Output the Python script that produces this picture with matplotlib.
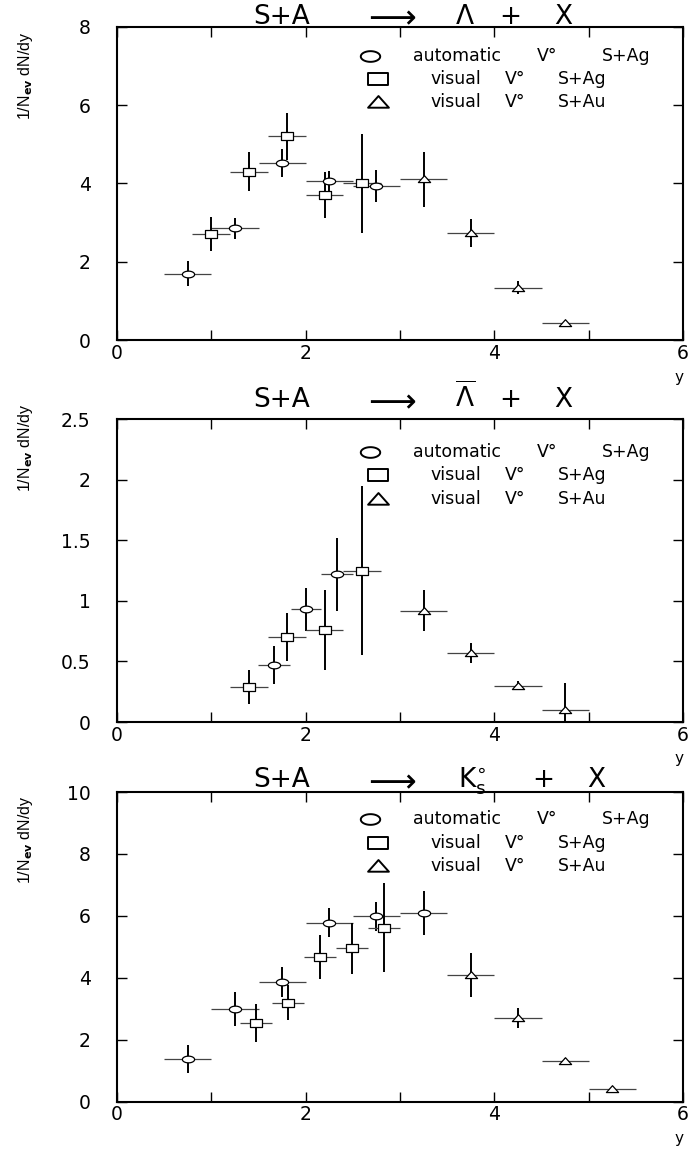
import numpy as np
import matplotlib.pyplot as plt
from matplotlib.path import Path

# ---- data ----
# S+A -> Lambda + X
lam_auto_x = [0.75, 1.25, 1.75, 2.25, 2.75]
lam_auto_xe = [0.25, 0.25, 0.25, 0.25, 0.25]
lam_auto_y = [1.70, 2.86, 4.52, 4.06, 3.93]
lam_auto_ye = [0.32, 0.27, 0.35, 0.27, 0.41]
lam_ag_x = [1.0, 1.4, 1.8, 2.2, 2.6]
lam_ag_xe = [0.2, 0.2, 0.2, 0.2, 0.2]
lam_ag_y = [2.71, 4.30, 5.21, 3.71, 4.00]
lam_ag_ye = [0.44, 0.50, 0.60, 0.58, 1.26]
lam_au_x = [3.25, 3.75, 4.25, 4.75]
lam_au_xe = [0.25, 0.25, 0.25, 0.25]
lam_au_y = [4.11, 2.74, 1.34, 0.43]
lam_au_ye = [0.70, 0.35, 0.16, 0.05]

# S+A -> anti-Lambda + X
alam_auto_x = [1.66, 2.0, 2.33]
alam_auto_xe = [0.17, 0.16, 0.17]
alam_auto_y = [0.47, 0.93, 1.22]
alam_auto_ye = [0.155, 0.18, 0.30]
alam_ag_x = [1.4, 1.8, 2.2, 2.6]
alam_ag_xe = [0.2, 0.2, 0.2, 0.2]
alam_ag_y = [0.29, 0.70, 0.76, 1.25]
alam_ag_ye = [0.14, 0.20, 0.33, 0.70]
alam_au_x = [3.25, 3.75, 4.25, 4.75]
alam_au_xe = [0.25, 0.25, 0.25, 0.25]
alam_au_y = [0.92, 0.57, 0.30, 0.10]
alam_au_ye = [0.17, 0.085, 0.035, 0.22]

# S+A -> K0s + X
k0_auto_x = [0.75, 1.25, 1.75, 2.25, 2.75, 3.25]
k0_auto_xe = [0.25, 0.25, 0.25, 0.25, 0.25, 0.25]
k0_auto_y = [1.38, 3.00, 3.87, 5.78, 5.99, 6.09]
k0_auto_ye = [0.46, 0.55, 0.48, 0.46, 0.47, 0.71]
k0_ag_x = [1.47, 1.81, 2.15, 2.49, 2.83]
k0_ag_xe = [0.17, 0.17, 0.17, 0.17, 0.17]
k0_ag_y = [2.55, 3.20, 4.67, 4.95, 5.62]
k0_ag_ye = [0.62, 0.57, 0.72, 0.82, 1.43]
k0_au_x = [3.75, 4.25, 4.75, 5.25]
k0_au_xe = [0.25, 0.25, 0.25, 0.25]
k0_au_y = [4.09, 2.71, 1.31, 0.41]
k0_au_ye = [0.70, 0.32, 0.10, 0.03]

ylims = [8, 2.5, 10]
yticks = [[0, 2, 4, 6, 8], [0, 0.5, 1, 1.5, 2, 2.5], [0, 2, 4, 6, 8, 10]]
yticklabels = [["0", "2", "4", "6", "8"],
               ["0", "0.5", "1", "1.5", "2", "2.5"],
               ["0", "2", "4", "6", "8", "10"]]
title_pieces = [
    ["S+A", r"$\longrightarrow$", r"$\Lambda$", "+", "X"],
    ["S+A", r"$\longrightarrow$", r"$\overline{\Lambda}$", "+", "X"],
    ["S+A", r"$\longrightarrow$", r"$\mathrm{K}_\mathrm{s}^{\circ}$", "+", "X"],
]
title_xpos = [[0.2906, 0.4806, 0.614, 0.6943, 0.788],
              [0.2906, 0.4806, 0.614, 0.6943, 0.788],
              [0.2906, 0.4806, 0.627, 0.7527, 0.8463]]
title_size = [19, 24, 19, 19, 19]
title_off = [3, 12, 5]        # px above the frame
ylab_top = [0.984, 1.053, 0.99]
leg_rows = [[29, 52, 75], [33, 56, 80], [27, 51, 74]]   # px below the frame top
leg_words = [["automatic", "V°", "S+Ag"],
             ["visual", "V°", "S+Ag"],
             ["visual", "V°", "S+Au"]]
leg_xc = [[0.600, 0.7606, 0.900],
          [0.599, 0.703, 0.8216],
          [0.599, 0.703, 0.8216]]

# ---- marker shapes (squashed like the original) ----
t = np.linspace(0, 2 * np.pi, 40)
ellipse = Path(np.column_stack([np.cos(t), 0.55 * np.sin(t)]), closed=True)
rect = Path([(-1, -0.58), (1, -0.58), (1, 0.58), (-1, 0.58), (-1, -0.58)], closed=True)
tri = Path([(-1, -0.5), (1, -0.5), (0, 0.62), (-1, -0.5)], closed=True)

plt.rcParams["font.family"] = ["DejaVu Sans"]
plt.rcParams["mathtext.fontset"] = "dejavusans"

fig = plt.figure(figsize=(6.9, 11.49), dpi=100)
bottoms = [0.7039, 0.3716, 0.0412]
heights = [0.2728, 0.2637, 0.2695]
axes = [fig.add_axes([0.1696, b, 0.8203, h]) for b, h in zip(bottoms, heights)]

panels = [
    [(lam_auto_x, lam_auto_xe, lam_auto_y, lam_auto_ye, ellipse),
     (lam_ag_x, lam_ag_xe, lam_ag_y, lam_ag_ye, rect),
     (lam_au_x, lam_au_xe, lam_au_y, lam_au_ye, tri)],
    [(alam_auto_x, alam_auto_xe, alam_auto_y, alam_auto_ye, ellipse),
     (alam_ag_x, alam_ag_xe, alam_ag_y, alam_ag_ye, rect),
     (alam_au_x, alam_au_xe, alam_au_y, alam_au_ye, tri)],
    [(k0_auto_x, k0_auto_xe, k0_auto_y, k0_auto_ye, ellipse),
     (k0_ag_x, k0_ag_xe, k0_ag_y, k0_ag_ye, rect),
     (k0_au_x, k0_au_xe, k0_au_y, k0_au_ye, tri)],
]
leg_markers = [(ellipse, 0.447, 14), (rect, 0.461, 14), (tri, 0.461, 15)]

for i, ax in enumerate(axes):
    h_px = heights[i] * 1149
    for x, xe, y, ye, mk in panels[i]:
        ax.errorbar(x, y, xerr=xe, fmt="none", ecolor="#444444", elinewidth=0.9, capsize=0)
        ax.errorbar(x, y, yerr=ye, fmt="none", ecolor="black", elinewidth=1.4, capsize=0)
        ax.plot(x, y, ls="none", marker=mk, ms=8.8, mfc="white", mec="black", mew=0.9, zorder=5)

    ax.set_xlim(0, 6)
    ax.set_ylim(0, ylims[i])
    ax.set_xticks([0, 2, 4, 6])
    ax.set_xticks([1, 3, 5], minor=True)
    ax.set_yticks(yticks[i])
    ax.set_yticklabels(yticklabels[i])
    ax.tick_params(which="both", direction="in", top=True, right=True, length=7, width=1)
    ax.tick_params(axis="x", labelsize=13.5, pad=2.5)
    ax.tick_params(axis="y", labelsize=13.5, pad=19)
    for sp in ax.spines.values():
        sp.set_linewidth(1.5)
    ax.set_xlabel("y", loc="right", fontsize=11, labelpad=5)

    # title, words placed where the wide original font put them
    ty = 1 + title_off[i] / h_px
    for s, xp, fs in zip(title_pieces[i], title_xpos[i], title_size):
        yy = ty - (3 / h_px if fs > 20 else 0)
        ax.text(xp, yy, s, transform=ax.transAxes, ha="center", va="baseline", fontsize=fs)

    ax.text(-0.1625, ylab_top[i], r"1/N$_{\mathbf{ev}}$ dN/dy", transform=ax.transAxes,
            rotation=90, ha="center", va="top", fontsize=11.5, family="Liberation Sans")

    # legend
    rows = [1 - r / h_px for r in leg_rows[i]]
    for (mk, mx, ms), ry in zip(leg_markers, rows):
        ax.plot([mx], [ry], transform=ax.transAxes, marker=mk, ms=ms,
                mfc="white", mec="black", mew=1.4, clip_on=False)
    for words, xcs, ry in zip(leg_words, leg_xc, rows):
        for w, xc in zip(words, xcs):
            ax.text(xc, ry, w, transform=ax.transAxes, va="center", ha="center", fontsize=12.5)

fig.savefig("out.png", dpi=100)
